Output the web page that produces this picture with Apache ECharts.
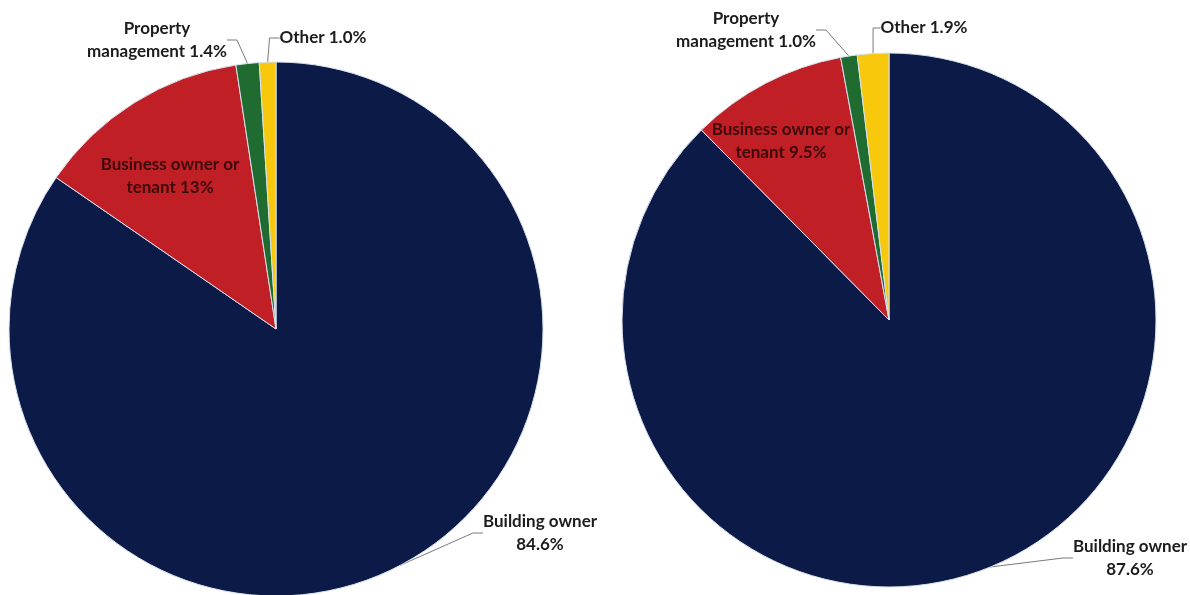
<!DOCTYPE html>
<html>
<head>
    <meta charset="utf-8">
    <title>ECharts</title>
    <script src="https://cdn.jsdelivr.net/npm/echarts@6/dist/echarts.min.js"></script>
</head>
<body style="margin:0;background:#fff">
<div id="main" style="width: 1190px;height:595px;"></div>
</body>

<script type="text/javascript">
    // categories, clockwise from 12 o'clock
    var categories = ['Building owner', 'Business owner or tenant', 'Property management', 'Other'];
    var leftValues = [84.6, 13, 1.4, 1.0];
    var leftText = ['84.6%', '13%', '1.4%', '1.0%'];
    var rightValues = [87.6, 9.5, 1.0, 1.9];
    var rightText = ['87.6%', '9.5%', '1.0%', '1.9%'];

    var colors = ['#0b1a46', '#c01f26', '#1f6b30', '#f7c80c'];

    // where each label sits, [x, y] centre of the text block
    var labelSpots = [
        [[540, 533], [170, 176], [157, 40], [323, 38]],
        [[1130, 558], [781, 141], [746, 30], [924, 28]]
    ];

    var myChart = echarts.init(document.getElementById('main'));

    function labelText(name, pct) {
        if (name == 'Building owner') return 'Building owner\n' + pct;
        if (name == 'Business owner or tenant') return 'Business owner or\ntenant ' + pct;
        if (name == 'Property management') return 'Property\nmanagement ' + pct;
        return name + ' ' + pct;
    }

    function buildData(values, texts) {
        return values.map(function (v, i) {
            var item = {
                name: categories[i],
                value: v,
                pct: texts[i],
                itemStyle: { color: colors[i] }
            };
            if (i == 1) {
                item.label = { color: '#3d0b0c' };
                item.labelLine = { show: false };
            }
            return item;
        });
    }

    function makeSeries(idx, center, values, texts) {
        var data = buildData(values, texts);
        return {
            type: 'pie',
            center: center,
            radius: 267,
            startAngle: 90,
            clockwise: true,
            animation: false,
            itemStyle: {
                borderColor: '#d8e2ef',
                borderWidth: 1
            },
            label: {
                show: true,
                position: 'outside',
                overflow: 'none',
                fontFamily: 'Lato',
                fontWeight: 'bold',
                fontSize: 17,
                lineHeight: 23,
                color: '#1c1c1c',
                align: 'center',
                formatter: function (p) {
                    return labelText(p.name, data[p.dataIndex].pct);
                }
            },
            labelLine: {
                show: true,
                length: 10,
                length2: 10,
                lineStyle: { color: '#7a7a7a', width: 1 }
            },
            labelLayout: function (p) {
                var s = labelSpots[idx][p.dataIndex];
                return {
                    x: s[0],
                    y: s[1],
                    align: 'center',
                    verticalAlign: 'middle'
                };
            },
            data: data
        };
    }

    var option = {
        backgroundColor: '#ffffff',
        series: [
            makeSeries(0, [276, 329], leftValues, leftText),
            makeSeries(1, [889, 320], rightValues, rightText)
        ]
    };

    myChart.setOption(option);
</script>
</html>
